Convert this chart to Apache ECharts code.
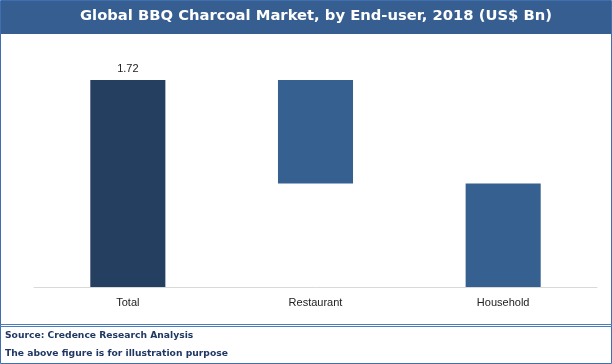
<!DOCTYPE html>
<html>
<head>
<meta charset="utf-8">
<script src="https://cdn.jsdelivr.net/npm/echarts@6/dist/echarts.min.js"></script>
<style>
html,body{margin:0;padding:0;background:#fff;}
#c{width:612px;height:364px;}
</style>
</head>
<body>
<div id="c"></div>
<script>
var categories = ['Total', 'Restaurant', 'Household'];
var values = [1.72, 0.86, 0.86];
var totalLabel = ['1.72', '', ''];
var titleText = 'Global BBQ Charcoal Market, by End-user, 2018 (US$ Bn)';
var footer1 = 'Source: Credence Research Analysis';
var footer2 = 'The above figure is for illustration purpose';

// waterfall bases: first is total, remaining are decreasing segments
var bases = [];
var remaining = values[0];
for (var i = 0; i < values.length; i++) {
  if (i === 0) { bases.push(0); }
  else { remaining -= values[i]; bases.push(Math.max(0, remaining)); }
}
var colors = ['#243F60', '#35608F', '#35608F'];

var chart = echarts.init(document.getElementById('c'), null, {renderer: 'canvas'});
chart.setOption({
  animation: false,
  backgroundColor: '#ffffff',
  title: [
    {text: titleText, left: 80, top: 9, padding: 0,
     textStyle: {color: '#ffffff', fontFamily: 'DejaVu Sans', fontWeight: 'bold', fontSize: 14.75}},
    {text: footer1, left: 5, top: 331, padding: 0,
     textStyle: {color: '#1F3864', fontFamily: 'DejaVu Sans', fontWeight: 'bold', fontSize: 9.2}},
    {text: footer2, left: 5, top: 349, padding: 0,
     textStyle: {color: '#1F3864', fontFamily: 'DejaVu Sans', fontWeight: 'bold', fontSize: 9.2}}
  ],
  graphic: [
    {type: 'rect', z: -10, shape: {x: 0, y: 1, width: 612, height: 33}, style: {fill: '#375E90'}},
    {type: 'rect', z: 100, shape: {x: 0.5, y: 0.5, width: 611, height: 363}, style: {fill: null, stroke: '#3F6FAE', lineWidth: 1}},
    {type: 'line', z: 100, shape: {x1: 0, y1: 324.5, x2: 612, y2: 324.5}, style: {stroke: '#4A7EBB', lineWidth: 1}},
    {type: 'line', z: 100, shape: {x1: 0, y1: 326.5, x2: 612, y2: 326.5}, style: {stroke: '#4A7EBB', lineWidth: 1}}
  ],
  grid: {left: 34, right: 15, top: 80, bottom: 77},
  xAxis: {
    type: 'category', data: categories,
    axisLine: {lineStyle: {color: '#D9D9D9', width: 1}},
    axisTick: {show: false},
    axisLabel: {color: '#222222', fontFamily: 'Liberation Sans', fontSize: 11, margin: 10}
  },
  yAxis: {type: 'value', min: 0, max: values[0], show: false, splitLine: {show: false}},
  series: [
    {type: 'bar', stack: 'w', barWidth: '40%', silent: true,
     itemStyle: {color: 'transparent'}, data: bases},
    {type: 'bar', stack: 'w', barWidth: '40%',
     data: values.map(function (v, i) { return {value: v, itemStyle: {color: colors[i]}}; }),
     label: {show: true, position: 'top', distance: 6, color: '#222222',
       fontFamily: 'Liberation Sans', fontSize: 11,
       formatter: function (p) { return totalLabel[p.dataIndex]; }}}
  ]
});
</script>
</body>
</html>
